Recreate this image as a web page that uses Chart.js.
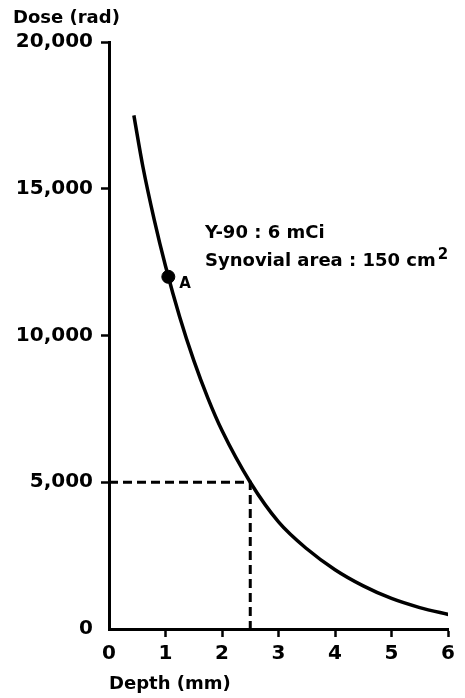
<!DOCTYPE html>
<html>
<head>
<meta charset="utf-8">
<script src="https://cdn.jsdelivr.net/npm/chart.js@4/dist/chart.umd.min.js"></script>
<style>
  html, body { margin: 0; padding: 0; background: #fff; }
  #chartCanvas { display: block; }
</style>
</head>
<body>
<canvas id="chartCanvas" width="465" height="698"></canvas>
<script>
// dose curve
const depthMm = [0.44, 0.6, 0.8, 1.0, 1.25, 1.5, 1.75, 2.0, 2.5, 3.0, 3.5, 4.0, 4.5, 5.0, 5.5, 6.04];
const doseRad = [17500, 15750, 13950, 12370, 10640, 9150, 7865, 6760, 5000, 3650, 2733, 2021, 1470, 1040, 730, 480];

// point A
const pointDepth = [1.05];
const pointDose = [12000];

// dashed guide to 5,000 rad
const guideDepth = [0, 2.5, 2.5];
const guideDose = [5000, 5000, 0];

const xTickValues = [0, 1, 2, 3, 4, 5, 6];
const yTickValues = [0, 5000, 10000, 15000, 20000];

const FONT = "'DejaVu Sans', sans-serif";

function toPoints(xs, ys) {
    return xs.map((x, i) => ({ x: x, y: ys[i] }));
}

const noteText = {
    id: "noteText",
    afterDraw(chart) {
        const ctx = chart.ctx;
        ctx.save();
        ctx.fillStyle = "#000";
        ctx.textAlign = "left";
        ctx.textBaseline = "alphabetic";
        ctx.font = "bold 18px " + FONT;
        ctx.fillText("Dose (rad)", 13, 23);
        ctx.fillText("Y-90 : 6 mCi", 205, 238);
        ctx.fillText("Synovial area : 150 cm", 205, 266);
        const w = ctx.measureText("Synovial area : 150 cm").width;
        ctx.font = "bold 15px " + FONT;
        ctx.fillText("2", 205 + w + 2, 259);
        // label next to point A
        const xs = chart.scales.x, ys = chart.scales.y;
        ctx.fillText("A", xs.getPixelForValue(pointDepth[0]) + 11, ys.getPixelForValue(pointDose[0]) + 11);
        ctx.restore();
    }
};

const hideZeroTick = (c) => (c.tick && c.tick.value === 0 ? "rgba(0,0,0,0)" : "#000");

new Chart(document.getElementById("chartCanvas"), {
    type: "line",
    data: {
        datasets: [
            {
                data: toPoints(depthMm, doseRad),
                borderColor: "#000",
                borderWidth: 3.5,
                pointRadius: 0,
                cubicInterpolationMode: "monotone",
                fill: false,
            },
            {
                data: toPoints(guideDepth, guideDose),
                borderColor: "#000",
                borderWidth: 3,
                borderDash: [9, 5],
                pointRadius: 0,
                tension: 0,
                fill: false,
            },
            {
                data: toPoints(pointDepth, pointDose),
                showLine: false,
                pointRadius: 6.5,
                pointBackgroundColor: "#000",
                pointBorderColor: "#000",
            },
        ],
    },
    options: {
        responsive: false,
        animation: false,
        devicePixelRatio: 1,
        layout: { padding: { top: 42, right: 17, bottom: 0, left: 0 } },
        plugins: {
            legend: { display: false },
            tooltip: { enabled: false },
        },
        scales: {
            x: {
                type: "linear",
                min: 0,
                max: 6,
                afterBuildTicks: (axis) => { axis.ticks = xTickValues.map(v => ({ value: v })); },
                afterFit: (axis) => { axis.height = 69; },
                border: { color: "#000", width: 3 },
                grid: { drawOnChartArea: false, tickLength: 8, tickWidth: 2.5, tickColor: hideZeroTick },
                ticks: {
                    color: "#000",
                    padding: 5,
                    maxRotation: 0,
                    font: { family: FONT, size: 20, weight: "bold" },
                },
                title: {
                    display: true,
                    text: "Depth (mm)",
                    align: "start",
                    color: "#000",
                    padding: { top: 0, bottom: 3 },
                    font: { family: FONT, size: 18, weight: "bold" },
                },
            },
            y: {
                type: "linear",
                min: 0,
                max: 20000,
                afterBuildTicks: (axis) => { axis.ticks = yTickValues.map(v => ({ value: v })); },
                afterFit: (axis) => { axis.width = 109; },
                border: { color: "#000", width: 3 },
                grid: { drawOnChartArea: false, tickLength: 8, tickWidth: 2.5, tickColor: hideZeroTick },
                ticks: {
                    color: "#000",
                    padding: 8,
                    font: { family: FONT, size: 20, weight: "bold" },
                    callback: (v) => v.toLocaleString("en-US"),
                },
            },
        },
    },
    plugins: [noteText],
});
</script>
</body>
</html>
